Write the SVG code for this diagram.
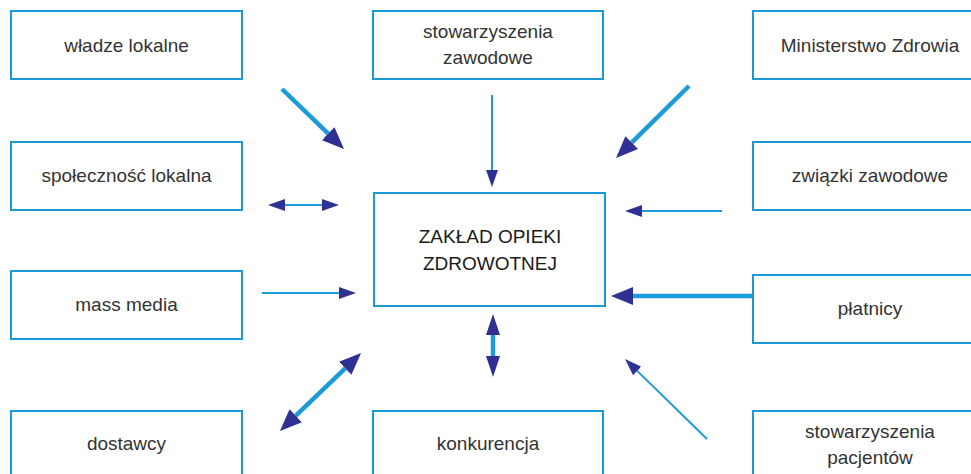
<svg xmlns="http://www.w3.org/2000/svg" width="971" height="474" viewBox="0 0 971 474">
<defs>
<style>
.box{fill:#fff;stroke:#1a9ad6;stroke-width:2}
.t{font-family:"Liberation Sans","DejaVu Sans",sans-serif;font-size:19px;fill:#333;text-anchor:middle}
.tc{font-family:"Liberation Sans","DejaVu Sans",sans-serif;font-size:19px;fill:#1a1a1a;text-anchor:middle}
.thin{stroke:#1b9bd7;stroke-width:2;fill:none}
.thick{stroke:#1b9bd7;stroke-width:4.5;fill:none}
</style>
<marker id="hs" markerUnits="userSpaceOnUse" markerWidth="18" markerHeight="12" refX="0" refY="6" orient="auto-start-reverse" viewBox="0 0 18 12">
<path d="M0,0 L17,6 L0,12 Z" fill="#2e3192"/>
</marker>
<marker id="hl" markerUnits="userSpaceOnUse" markerWidth="24" markerHeight="18" refX="0" refY="9" orient="auto-start-reverse" viewBox="0 0 24 18">
<path d="M0,0 L22,9 L0,18 Z" fill="#2e3192"/>
</marker>
<marker id="hv" markerUnits="userSpaceOnUse" markerWidth="22" markerHeight="14" refX="0" refY="7" orient="auto-start-reverse" viewBox="0 0 22 14">
<path d="M0,0 L21,7 L0,14 Z" fill="#2e3192"/>
</marker>
</defs>
<rect width="971" height="474" fill="#fff"/>
<g id="connectors">
<line class="thick" x1="282" y1="89" x2="328.2" y2="133.7" marker-end="url(#hl)"/>
<line class="thick" x1="689" y1="86" x2="631.7" y2="142.6" marker-end="url(#hl)"/>
<line class="thin" x1="492" y1="95" x2="492" y2="170" marker-end="url(#hs)"/>
<line class="thin" x1="285" y1="205" x2="322" y2="205" marker-start="url(#hs)" marker-end="url(#hs)"/>
<line class="thin" x1="722" y1="211" x2="642" y2="211" marker-end="url(#hs)"/>
<line class="thin" x1="262" y1="293" x2="339" y2="293" marker-end="url(#hs)"/>
<line class="thick" x1="752" y1="296" x2="633" y2="296" marker-end="url(#hl)"/>
<line class="thick" x1="295.8" y1="415.7" x2="345.2" y2="368.3" marker-start="url(#hl)" marker-end="url(#hl)"/>
<line class="thick" x1="493" y1="335" x2="493" y2="356" marker-start="url(#hv)" marker-end="url(#hv)"/>
<line class="thin" x1="707" y1="439" x2="637.2" y2="370.9" marker-end="url(#hs)"/>
</g>
<g id="wladze"><rect class="box" x="11" y="11" width="231" height="68"/><text class="t" x="126.5" y="52">władze lokalne</text></g>
<g id="stow-zaw"><rect class="box" x="373" y="11" width="230" height="68"/><text class="t" x="488" y="38">stowarzyszenia</text><text class="t" x="488" y="64">zawodowe</text></g>
<g id="ministerstwo"><rect class="box" x="753" y="11" width="234" height="68"/><text class="t" x="870" y="52">Ministerstwo Zdrowia</text></g>
<g id="spolecznosc"><rect class="box" x="11" y="142" width="231" height="68"/><text class="t" x="126.5" y="182">społeczność lokalna</text></g>
<g id="zwiazki"><rect class="box" x="753" y="142" width="234" height="68"/><text class="t" x="870" y="182">związki zawodowe</text></g>
<g id="zoz"><rect class="box" x="374" y="193" width="231" height="113"/><text class="tc" x="490" y="243">ZAKŁAD OPIEKI</text><text class="tc" x="490" y="270">ZDROWOTNEJ</text></g>
<g id="mass-media"><rect class="box" x="11" y="271" width="231" height="68"/><text class="t" x="126.5" y="311">mass media</text></g>
<g id="platnicy"><rect class="box" x="753" y="275" width="234" height="68"/><text class="t" x="870" y="315">płatnicy</text></g>
<g id="dostawcy"><rect class="box" x="11" y="411" width="231" height="70"/><text class="t" x="126.5" y="450">dostawcy</text></g>
<g id="konkurencja"><rect class="box" x="373" y="411" width="230" height="70"/><text class="t" x="488" y="450">konkurencja</text></g>
<g id="stow-pac"><rect class="box" x="753" y="411" width="234" height="70"/><text class="t" x="870" y="438">stowarzyszenia</text><text class="t" x="870" y="464">pacjentów</text></g>
</svg>
